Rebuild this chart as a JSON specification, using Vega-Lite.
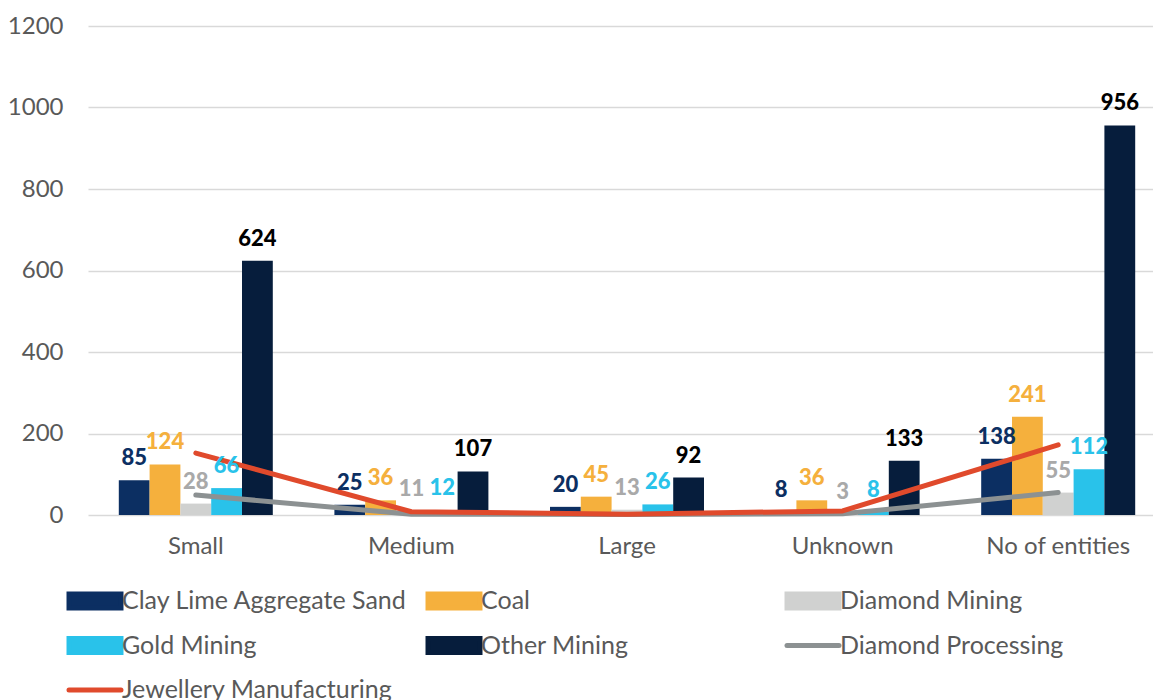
{
  "$schema": "https://vega.github.io/schema/vega-lite/v6.json",
  "autosize": {"type": "none"},
  "width": 1065,
  "height": 489,
  "padding": {"left": 88, "top": 26, "right": 0, "bottom": 185},
  "background": "white",
  "config": {
    "view": {"stroke": null},
    "font": "Lato",
    "axis": {"labelFont": "Lato", "labelColor": "#595959", "labelFontSize": 24, "domain": false, "ticks": false, "title": null}
  },
  "data": {
    "values": [
      {"category": "Small", "series": "Clay Lime Aggregate Sand", "value": 85},
      {"category": "Small", "series": "Coal", "value": 124},
      {"category": "Small", "series": "Diamond Mining", "value": 28},
      {"category": "Small", "series": "Gold Mining", "value": 66},
      {"category": "Small", "series": "Other Mining", "value": 624},
      {"category": "Small", "series": "Diamond Processing", "value": 49},
      {"category": "Small", "series": "Jewellery Manufacturing", "value": 152},
      {"category": "Medium", "series": "Clay Lime Aggregate Sand", "value": 25},
      {"category": "Medium", "series": "Coal", "value": 36},
      {"category": "Medium", "series": "Diamond Mining", "value": 11},
      {"category": "Medium", "series": "Gold Mining", "value": 12},
      {"category": "Medium", "series": "Other Mining", "value": 107},
      {"category": "Medium", "series": "Diamond Processing", "value": 2},
      {"category": "Medium", "series": "Jewellery Manufacturing", "value": 8},
      {"category": "Large", "series": "Clay Lime Aggregate Sand", "value": 20},
      {"category": "Large", "series": "Coal", "value": 45},
      {"category": "Large", "series": "Diamond Mining", "value": 13},
      {"category": "Large", "series": "Gold Mining", "value": 26},
      {"category": "Large", "series": "Other Mining", "value": 92},
      {"category": "Large", "series": "Diamond Processing", "value": 1},
      {"category": "Large", "series": "Jewellery Manufacturing", "value": 2},
      {"category": "Unknown", "series": "Clay Lime Aggregate Sand", "value": 8},
      {"category": "Unknown", "series": "Coal", "value": 36},
      {"category": "Unknown", "series": "Diamond Mining", "value": 3},
      {"category": "Unknown", "series": "Gold Mining", "value": 8},
      {"category": "Unknown", "series": "Other Mining", "value": 133},
      {"category": "Unknown", "series": "Diamond Processing", "value": 3},
      {"category": "Unknown", "series": "Jewellery Manufacturing", "value": 10},
      {"category": "No of entities", "series": "Clay Lime Aggregate Sand", "value": 138},
      {"category": "No of entities", "series": "Coal", "value": 241},
      {"category": "No of entities", "series": "Diamond Mining", "value": 55},
      {"category": "No of entities", "series": "Gold Mining", "value": 112},
      {"category": "No of entities", "series": "Other Mining", "value": 956},
      {"category": "No of entities", "series": "Diamond Processing", "value": 55},
      {"category": "No of entities", "series": "Jewellery Manufacturing", "value": 172}
    ]
  },
  "encoding": {
    "x": {
      "field": "category", "type": "nominal",
      "sort": ["Small", "Medium", "Large", "Unknown", "No of entities"],
      "scale": {"range": [0, 1078], "paddingInner": 0, "paddingOuter": 0},
      "axis": {"labelAngle": 0, "labelPadding": 19, "grid": false}
    },
    "y": {
      "field": "value", "type": "quantitative",
      "scale": {"domain": [0, 1200]},
      "axis": {"values": [0, 200, 400, 600, 800, 1000, 1200], "format": "d", "grid": true, "gridColor": "#D9D9D9", "gridWidth": 1.5, "labelPadding": 25}
    }
  },
  "layer": [
    {
      "transform": [{"filter": {"field": "series", "oneOf": ["Clay Lime Aggregate Sand", "Coal", "Diamond Mining", "Gold Mining", "Other Mining"]}}],
      "mark": {"type": "bar"},
      "encoding": {
        "xOffset": {"field": "series", "type": "nominal", "sort": ["Clay Lime Aggregate Sand", "Coal", "Diamond Mining", "Gold Mining", "Other Mining"], "scale": {"paddingInner": 0, "paddingOuter": 1.09}},
        "color": {
          "field": "series", "type": "nominal",
          "scale": {
            "domain": ["Clay Lime Aggregate Sand", "Coal", "Diamond Mining", "Gold Mining", "Other Mining", "Diamond Processing", "Jewellery Manufacturing"],
            "range": ["#0C2F62", "#F5B03D", "#D0D1D0", "#29C2EA", "#061D3C", "#8C9192", "#E04A2C"]
          },
          "legend": {
            "orient": "none", "legendX": -13, "legendY": 555, "direction": "horizontal",
            "values": ["Clay Lime Aggregate Sand", "Coal", "Diamond Mining", "Gold Mining", "Other Mining", "Diamond Processing", "Jewellery Manufacturing"],
            "title": null, "columns": 3, "gridAlign": "all", "columnPadding": 10, "rowPadding": 7.5,
            "symbolSize": 1201, "labelOffset": 7, "labelFontSize": 25, "labelFont": "Lato", "labelColor": "#595959", "labelLimit": 400,
            "symbolType": "M-1.5,-0.4H1.5V0.4H-1.5Z",
            "encode": {
              "symbols": {
                "update": {
                  "shape": {"signal": "indexof(['Diamond Processing','Jewellery Manufacturing'], datum.value) >= 0 ? 'M-1.5,0H1.5' : 'M-1.5,-0.4H1.5V0.4H-1.5Z'"},
                  "fill": {"signal": "indexof(['Diamond Processing','Jewellery Manufacturing'], datum.value) >= 0 ? 'transparent' : scale('color', datum.value)"},
                  "stroke": {"signal": "indexof(['Diamond Processing','Jewellery Manufacturing'], datum.value) >= 0 ? scale('color', datum.value) : 'transparent'"},
                  "strokeWidth": {"value": 5},
                  "strokeCap": {"value": "round"},
                  "opacity": {"value": 1}
                }
              }
            }
          }
        }
      }
    },
    {
      "transform": [{"filter": {"field": "series", "oneOf": ["Diamond Processing", "Jewellery Manufacturing"]}}],
      "mark": {"type": "line", "strokeWidth": 5, "strokeCap": "round", "strokeJoin": "round"},
      "encoding": {
        "color": {"field": "series", "type": "nominal"}
      }
    },
    {
      "transform": [{"filter": {"field": "series", "oneOf": ["Clay Lime Aggregate Sand", "Coal", "Diamond Mining", "Gold Mining", "Other Mining"]}}],
      "mark": {"type": "text", "baseline": "alphabetic", "dy": -15, "fontSize": 22, "fontWeight": 900, "font": "Lato"},
      "encoding": {
        "xOffset": {"field": "series", "type": "nominal", "sort": ["Clay Lime Aggregate Sand", "Coal", "Diamond Mining", "Gold Mining", "Other Mining"], "scale": {"paddingInner": 0, "paddingOuter": 1.09}},
        "text": {"field": "value", "type": "quantitative"},
        "fill": {
          "field": "series", "type": "nominal", "legend": null,
          "scale": {
            "domain": ["Clay Lime Aggregate Sand", "Coal", "Diamond Mining", "Gold Mining", "Other Mining"],
            "range": ["#0C2F62", "#F5B03D", "#A9A9A9", "#29C2EA", "#000000"]
          }
        }
      }
    }
  ]
}
